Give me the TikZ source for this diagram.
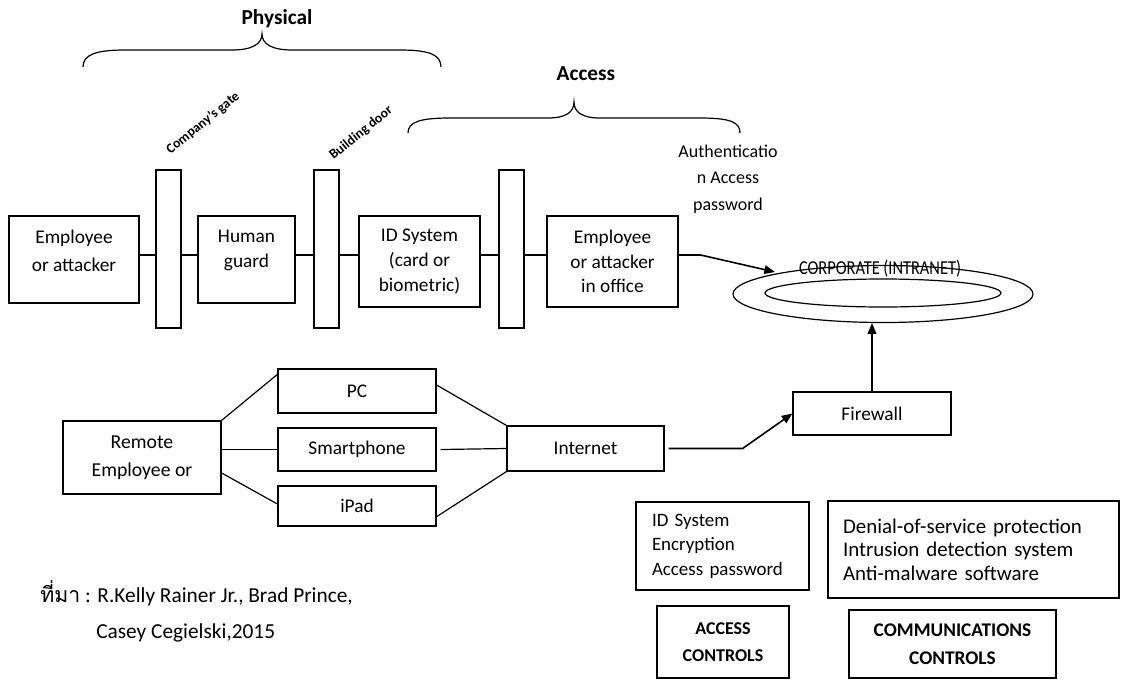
\documentclass[tikz,border=0pt]{standalone}
\usepackage{fontspec}
\setmainfont{Carlito}
\newfontfamily\thaifont[Script=Thai]{Loma}
\usepackage{graphicx}
\usetikzlibrary{arrows.meta,shapes.geometric}
\begin{document}
\begin{tikzpicture}[x=0.75pt,y=-0.75pt,
  box/.style={draw, line width=0.9pt, inner sep=0pt, align=center, font=\fontsize{14.5}{18.5}\selectfont},
  bar/.style={draw, line width=0.9pt, inner sep=0pt, minimum width=18.75pt, minimum height=118.5pt},
  link/.style={line width=0.9pt},
  arr/.style={line width=1.2pt, -{Triangle[length=8pt,width=6.5pt]}},
  brace/.style={line width=0.9pt},
  head/.style={font=\fontsize{16}{19}\selectfont\bfseries, inner sep=0pt},
  slant/.style={font=\fontsize{10.3}{12}\selectfont\bfseries, inner sep=0pt, rotate=39},
  ctrl/.style={draw, line width=0.9pt, inner sep=0pt, align=center},
  list/.style={draw, line width=0.9pt, inner sep=0pt, align=left},
  plain/.style={inner sep=0pt, align=center}]
\useasboundingbox (0,0) rectangle (1143,679);

% headings and braces
\node[head] (phys) at (277,19) {Physical};
\draw[brace] (83,67) .. controls (83,55) and (95,50) .. (125,50) -- (232,50)
  .. controls (252,50) and (262,44) .. (262,34)
  .. controls (262,44) and (272,50) .. (292,50) -- (400,50)
  .. controls (430,50) and (441,55) .. (441,67);
\node[head] (acc) at (586,74) {Access};
\draw[brace] (408,133) .. controls (408,122) and (420,118) .. (450,118) -- (548,118)
  .. controls (566,118) and (574,112) .. (574,102)
  .. controls (574,112) and (582,118) .. (600,118) -- (700,118)
  .. controls (730,118) and (740,122) .. (740,133);

\node[slant] (gate) at (203,123) {Company’s gate};
\node[slant] (door) at (361,133) {Building door};
\node[plain, font=\fontsize{13.5}{20}\selectfont] (auth) at (728,179) {Authenticatio\\n Access\\password};

% top row
\coordinate (rowY) at (0,255);
\node[box, minimum width=97.5pt, minimum height=65.25pt, font=\fontsize{14.5}{21}\selectfont, text depth=12.8pt] (emp) at (74,259.5) {Employee\\or attacker};
\node[bar] (g1) at (168.5,249) {};
\node[box, minimum width=72.75pt, minimum height=65.25pt, text depth=15.8pt] (guard) at (246.5,259.5) {Human\\guard};
\node[bar] (g2) at (326.5,249) {};
\node[box, minimum width=90.75pt, minimum height=68.25pt] (idsys) at (419.5,261.5) {ID System\\(card or\\biometric)};
\node[bar] (g3) at (511.5,249) {};
\node[box, minimum width=98.25pt, minimum height=68.25pt] (off) at (612.5,261.5) {Employee\\or attacker\\in office};

\draw[link] (emp.east |- rowY) -- (g1.west |- rowY);
\draw[link] (g1.east |- rowY) -- (guard.west |- rowY);
\draw[link] (guard.east |- rowY) -- (g2.west |- rowY);
\draw[link] (g2.east |- rowY) -- (idsys.west |- rowY);
\draw[link] (idsys.east |- rowY) -- (g3.west |- rowY);
\draw[link] (g3.east |- rowY) -- (off.west |- rowY);

% corporate intranet
\node[draw, ellipse, line width=0.9pt, minimum width=225pt, minimum height=42.75pt, inner sep=0pt] (corp) at (883,294) {};
\node[draw, ellipse, line width=0.9pt, minimum width=177pt, minimum height=21pt, inner sep=0pt] (corpin) at (883,293) {};
\node[plain, font=\fontsize{14.8}{16}\selectfont] (corpT) at (880,269) {\scalebox{0.83}[1]{CORPORATE (INTRANET)}};
\coordinate (cin) at (775,272);
\draw[arr] (off.east |- rowY) -- ++(22,0) -- (cin);

\node[box, minimum width=118.5pt, minimum height=32.25pt] (fw) at (872,413.5) {Firewall};
\draw[arr] (fw.north) -- (fw.north |- corp.south);

% bottom network
\node[box, minimum width=118.5pt, minimum height=54.75pt, font=\fontsize{14.8}{21}\selectfont] (rem) at (142,457.5) {Remote\\Employee or};
\node[box, minimum width=118.5pt, minimum height=33pt] (pc) at (357,391) {PC};
\node[box, minimum width=118.5pt, minimum height=32.25pt] (smart) at (357,449.5) {Smartphone};
\node[box, minimum width=118.5pt, minimum height=30pt] (ipad) at (357,506) {iPad};
\node[box, minimum width=117.75pt, minimum height=33.75pt] (inet) at (585.5,448.5) {Internet};

\draw[link] (rem.north east) -- ([yshift=-4.5pt]pc.north west);
\draw[link] (smart.west -| rem.east) -- (smart.west);
\draw[link] ([yshift=-11.6pt]rem.east) -- ([yshift=1.5pt]ipad.west);
\draw[link] ([yshift=4.5pt]pc.east) -- (inet.north west);
\draw[link] ([xshift=3pt]smart.east) -- (inet.west);
\draw[link] ([yshift=-8pt]ipad.east) -- (inet.south west);
\draw[arr] ([xshift=3pt]inet.east) -- ++(74,0) -- (fw.west);

% controls
\node[list, minimum width=129.75pt, minimum height=66pt, text width=105.75pt, font=\fontsize{14.2}{18.4}\selectfont] (acl) at (722.5,546) {ID System\\Encryption\\Access password};
\node[list, minimum width=218.25pt, minimum height=72.75pt, text width=195.75pt, font=\fontsize{15.7}{17.6}\selectfont] (ccl) at (973.5,549.5) {Denial-of-service protection\\Intrusion detection system\\Anti-malware software};
\node[ctrl, minimum width=99pt, minimum height=54pt, font=\fontsize{13.5}{20}\selectfont\bfseries] (actl) at (723,642) {ACCESS\\CONTROLS};
\node[ctrl, minimum width=155.25pt, minimum height=51pt, font=\fontsize{14.5}{21}\selectfont\bfseries] (cctl) at (952.5,644) {COMMUNICATIONS\\CONTROLS};

% source
\node[inner sep=0pt, anchor=west, font=\fontsize{16}{19}\selectfont] (cite1) at (40,593) {{\thaifont ที่มา} : R.Kelly Rainer Jr., Brad Prince,};
\node[inner sep=0pt, anchor=west, font=\fontsize{16}{19}\selectfont] (cite2) at (96,633) {Casey Cegielski,2015};
\end{tikzpicture}
\end{document}
